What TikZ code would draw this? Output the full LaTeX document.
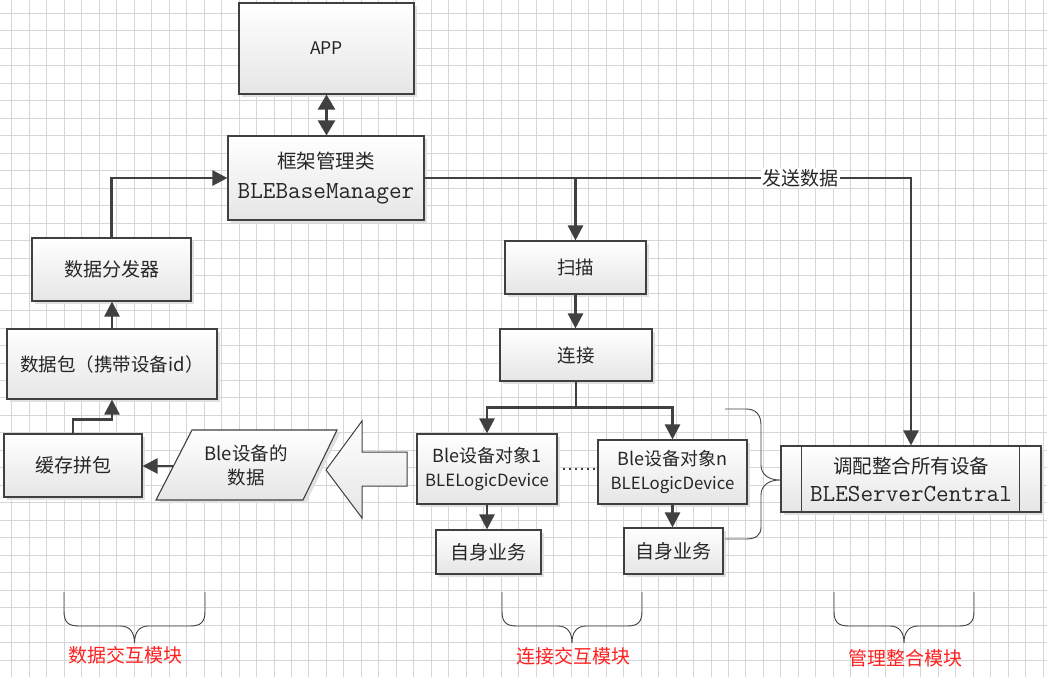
\documentclass[tikz,border=0pt]{standalone}
\usepackage{fontspec}
\setmainfont{Noto Sans CJK SC}
\usetikzlibrary{arrows.meta,shadows,calc}
\definecolor{gridc}{HTML}{D6D6D6}
\definecolor{linec}{HTML}{404040}
\definecolor{txtc}{HTML}{262626}
\definecolor{redc}{HTML}{FF2020}
\tikzset{
  box/.style={draw=linec, line width=1.1pt, top color=white, bottom color=black!10,
    drop shadow={shadow xshift=3pt, shadow yshift=-3pt, fill=black!12, opacity=1},
    text=txtc, inner sep=0pt, align=center, font=\fontsize{19}{24}\selectfont},
  conn/.style={draw=linec, line width=2.5pt, -{Triangle[length=15pt,width=15pt]}},
  dconn/.style={draw=linec, line width=2.5pt, {Triangle[length=15pt,width=17pt]}-{Triangle[length=15pt,width=17pt]}},
  plainconn/.style={draw=linec, line width=2.5pt},
  bracec/.style={draw=linec, line width=0.9pt},
  modlabel/.style={text=redc, font=\fontsize{19}{19}\selectfont, inner sep=0pt},
  lbl/.style={fill=white, text=txtc, inner sep=1.5pt, font=\fontsize{19}{19}\selectfont},
  dotline/.style={draw=linec, line width=2.5pt, dash pattern=on 2.5pt off 3.5pt},
}
\begin{document}
\begin{tikzpicture}[x=1pt,y=-1pt]
\fill[white] (0,0) rectangle (1047,677);
\useasboundingbox (0,0) rectangle (1047,677);
\foreach \i in {0,...,59} \draw[gridc, line width=0.8pt] ({11.7+\i*17.48},0) -- ({11.7+\i*17.48},677);
\foreach \j in {0,...,38} \draw[gridc, line width=0.8pt] (0,{13.3+\j*17.48}) -- (1047,{13.3+\j*17.48});

% boxes
\node[box, minimum width=175pt, minimum height=91pt, font=\fontsize{17.5}{20}\selectfont] (app) at (326.5,48.5) {APP};
\node[box, minimum width=196pt, minimum height=84pt, font=\fontsize{19.5}{30}\selectfont] (mgr) at (326,178)
  {框架管理类\\{\ttfamily\fontsize{24.5}{30}\selectfont BLEBaseManager}};
\node[box, minimum width=159pt, minimum height=63pt] (disp) at (111.5,269.5) {数据分发器};
\node[box, minimum width=210pt, minimum height=70pt, font=\fontsize{18.5}{24}\selectfont] (pkt) at (112,364) {数据包（携带设备id）};
\node[box, minimum width=138pt, minimum height=63pt] (cache) at (73,465.5) {缓存拼包};
\node[box, minimum width=141pt, minimum height=53pt, font=\fontsize{18.5}{24}\selectfont] (scan) at (575.5,267.5) {扫描};
\node[box, minimum width=152pt, minimum height=52pt, font=\fontsize{18.5}{24}\selectfont] (link) at (576,355) {连接};
\node[box, minimum width=140pt, minimum height=70pt, font=\fontsize{18}{24}\selectfont] (dev1) at (487,469)
  {Ble设备对象1\\{\fontsize{16.8}{24}\selectfont BLELogicDevice}};
\node[box, minimum width=149pt, minimum height=64pt, font=\fontsize{18}{24}\selectfont] (devn) at (672.5,472)
  {Ble设备对象n\\{\fontsize{16.8}{24}\selectfont BLELogicDevice}};
\node[box, minimum width=105pt, minimum height=44pt] (self1) at (488.5,552) {自身业务};
\node[box, minimum width=99pt, minimum height=46pt] (selfn) at (673.5,551) {自身业务};
\node[box, minimum width=260pt, minimum height=66pt, font=\fontsize{19.5}{28}\selectfont] (central) at (911,479)
  {调配整合所有设备\\{\ttfamily\fontsize{24.5}{28}\selectfont BLEServerCentral}};
\draw[linec, line width=1.1pt] ([xshift=21pt]central.north west) -- ([xshift=21pt]central.south west);
\draw[linec, line width=1.1pt] ([xshift=-22pt]central.north east) -- ([xshift=-22pt]central.south east);

% parallelogram data
\draw[draw=linec, line width=1.1pt, top color=white, bottom color=black!10,
  drop shadow={shadow xshift=3pt, shadow yshift=-3pt, fill=black!12, opacity=1}]
  (192,430) -- (337,430) -- (303,500) -- (156,500) -- cycle;
\node[text=txtc, align=center, font=\fontsize{18.5}{24}\selectfont, inner sep=0pt] (para) at (246,465) {Ble设备的\\数据};
\coordinate (paraL) at (173,466);

% block arrow
\draw[draw=linec, line width=1pt, top color=white, bottom color=black!10]
  (326,470) -- (362,421) -- (362,452) -- (407,452) -- (407,486) -- (362,486) -- (362,518) -- cycle;

% connectors
\draw[dconn] (app.south) -- (app.south |- mgr.north);
\draw[conn] (disp.north) |- (mgr.west);
\draw[conn] (pkt.north) -- (pkt.north |- disp.south);
\draw[conn] (cache.north) -- ++(0,-14) -| (pkt.south);
\draw[conn] (paraL) -- (paraL -| cache.east);
\draw[conn] (mgr.east) -| (scan.north);
\draw[conn] (mgr.east) -| node[pos=0.386, lbl] {发送数据} (central.north);
\draw[conn] (scan.south) -- (scan.south |- link.north);
\draw[plainconn] (link.south) -- ++(0,26) coordinate (split);
\draw[conn] (split) -| (dev1.north);
\draw[conn] (split) -| (devn.north);
\draw[conn] (dev1.south) -- (dev1.south |- self1.north);
\draw[conn] (devn.south) -- (devn.south |- selfn.north);
\draw[dotline] ([xshift=5pt]dev1.east) -- ([xshift=-1pt]dev1.east -| devn.west);

% right brace
\draw[bracec] (725,409) -- (746,409) .. controls (756,409) and (761,415) .. (761,425) -- (761,465)
  .. controls (761,474) and (768,480) .. (780,480) .. controls (768,480) and (761,486) .. (761,495)
  -- (761,527) .. controls (761,535) and (756,539) .. (746,539) -- (725,539);

% bottom braces
\foreach \L/\M/\R in {64/134.5/205, 502/572/642, 834/904/974}{
  \draw[bracec] (\L,592) -- (\L,611) .. controls (\L,622) and ({\L+4},626) .. ({\L+15},626)
    -- ({\M-14},626) .. controls ({\M-5},626) and (\M,632) .. (\M,643)
    .. controls (\M,632) and ({\M+5},626) .. ({\M+14},626)
    -- ({\R-15},626) .. controls ({\R-4},626) and (\R,622) .. (\R,611) -- (\R,592);
}
\node[modlabel] (m1) at (125,655) {数据交互模块};
\node[modlabel] (m2) at (573,656) {连接交互模块};
\node[modlabel] (m3) at (905,658) {管理整合模块};
\end{tikzpicture}
\end{document}
